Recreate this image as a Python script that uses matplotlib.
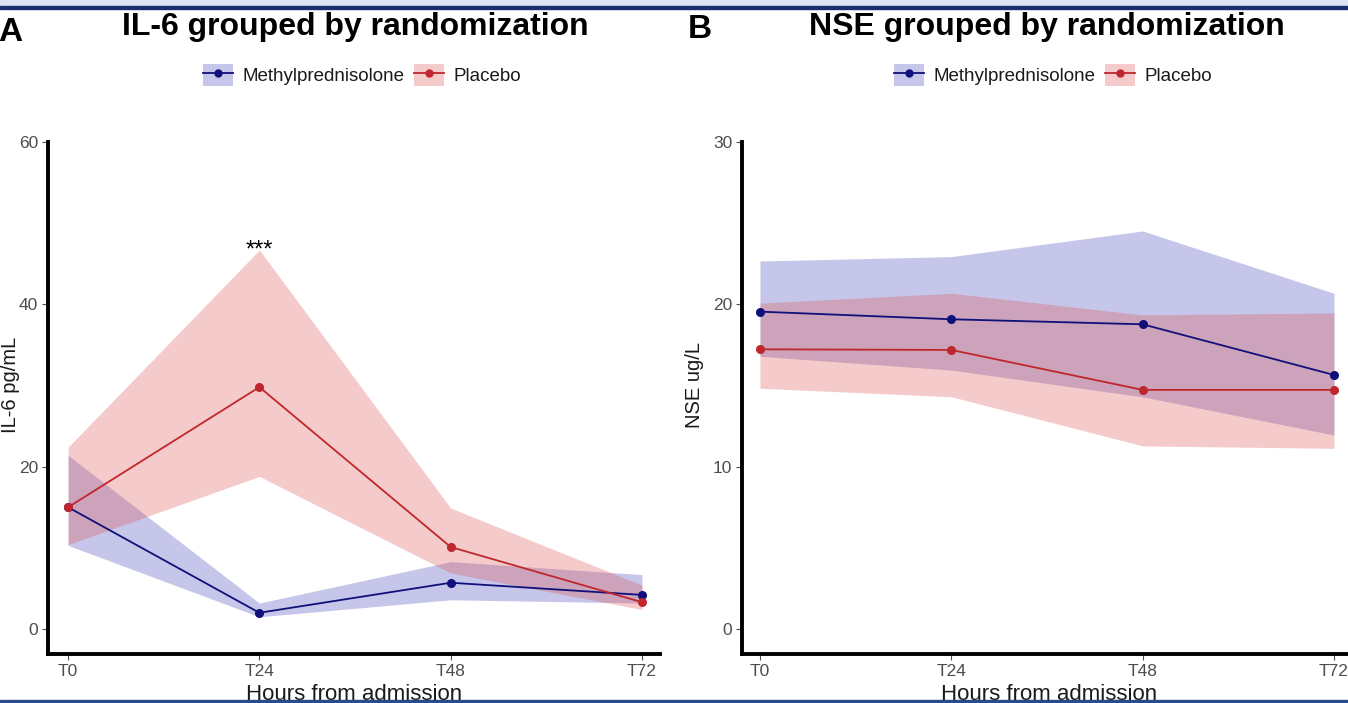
import matplotlib.pyplot as plt
import numpy as np
from matplotlib.lines import Line2D
from matplotlib.patches import Patch, Rectangle

plt.rcParams['font.family'] = ['Liberation Sans', 'DejaVu Sans']

timepoints = ["T0", "T24", "T48", "T72"]

# IL-6 (pg/mL)
il6_mp = [15.0, 2.0, 5.7, 4.2]
il6_mp_lo = [10.3, 1.5, 3.6, 3.2]
il6_mp_hi = [21.4, 3.2, 8.3, 6.7]
il6_pl = [15.0, 29.8, 10.1, 3.3]
il6_pl_lo = [10.4, 18.8, 6.9, 2.4]
il6_pl_hi = [22.4, 46.7, 14.9, 5.4]

# NSE (ug/L)
nse_mp = [19.55, 19.08, 18.77, 15.65]
nse_mp_lo = [16.8, 15.95, 14.3, 11.95]
nse_mp_hi = [22.67, 22.94, 24.52, 20.68]
nse_pl = [17.23, 17.19, 14.73, 14.73]
nse_pl_lo = [14.83, 14.31, 11.28, 11.13]
nse_pl_hi = [20.07, 20.68, 19.35, 19.47]

mp_line = '#10107a'
mp_fill = '#4444bb'
pl_line = '#c0272d'
pl_fill = '#e05050'
tick_grey = '#4d4d4d'

W, H = 1348, 703
fig = plt.figure(figsize=(W / 100, H / 100), dpi=100)

# frame band at top / line at bottom
fig.patches.append(Rectangle((0, 1 - 6 / H), 1, 6 / H, transform=fig.transFigure,
                             color='#dce3f3', zorder=0))
fig.patches.append(Rectangle((0, 1 - 9 / H), 1, 3 / H, transform=fig.transFigure,
                             color='#1b2f6e', zorder=0))
fig.patches.append(Rectangle((0, 0), 1, 3 / H, transform=fig.transFigure,
                             color='#2a4a8c', zorder=0))


def px_axes(x0, x1, y0, y1):
    return fig.add_axes([x0 / W, 1 - y1 / H, (x1 - x0) / W, (y1 - y0) / H])


def draw_panel(ax, mp, mp_lo, mp_hi, pl, pl_lo, pl_hi, ylim, yticks, ylabel):
    x = np.arange(len(timepoints))
    ax.fill_between(x, mp_lo, mp_hi, color=mp_fill, alpha=0.3, lw=0)
    ax.fill_between(x, pl_lo, pl_hi, color=pl_fill, alpha=0.3, lw=0)
    ax.plot(x, mp, color=mp_line, lw=1.3, marker='o', ms=5.5)
    ax.plot(x, pl, color=pl_line, lw=1.3, marker='o', ms=5.5)
    ax.set_ylim(*ylim)
    ax.set_yticks(yticks)
    ax.set_xticks(x, timepoints)
    for s in ['top', 'right']:
        ax.spines[s].set_visible(False)
    for s in ['left', 'bottom']:
        ax.spines[s].set_linewidth(2.8)
    ax.tick_params(colors=tick_grey, labelsize=12.5, length=4, width=0.8, pad=3)
    ax.set_xlabel("Hours from admission", fontsize=16, color='#1a1a1a', labelpad=4)
    ax.set_ylabel(ylabel, fontsize=14.5, color='#1a1a1a')


axA = px_axes(48, 660, 142, 654)
draw_panel(axA, il6_mp, il6_mp_lo, il6_mp_hi, il6_pl, il6_pl_lo, il6_pl_hi,
           (-3.08, 60), [0, 20, 40, 60], "IL-6 pg/mL")
axA.set_xlim(-0.105, 3.094)
axA.yaxis.set_label_coords(-0.046, 0.525)
axA.text(1, 45.9, "***", ha='center', va='baseline', fontsize=17)

axB = px_axes(742, 1356, 142, 654)
draw_panel(axB, nse_mp, nse_mp_lo, nse_mp_hi, nse_pl, nse_pl_lo, nse_pl_hi,
           (-1.54, 30), [0, 10, 20, 30], "NSE ug/L")
axB.set_xlim(-0.094, 3.115)
axB.yaxis.set_label_coords(-0.062, 0.525)

# titles and panel letters
fig.text(355 / W, 1 - 35 / H, "IL-6 grouped by randomization", ha='center', va='baseline',
         fontsize=23, fontweight='bold')
fig.text(1047 / W, 1 - 35 / H, "NSE grouped by randomization", ha='center', va='baseline',
         fontsize=23, fontweight='bold')
fig.text(-2 / W, 1 - 41 / H, "A", ha='left', va='baseline', fontsize=24, fontweight='bold')
fig.text(688 / W, 1 - 38 / H, "B", ha='left', va='baseline', fontsize=24, fontweight='bold')

handles = [
    (Patch(facecolor=mp_fill, alpha=0.3, lw=0),
     Line2D([], [], color=mp_line, lw=1.3, marker='o', ms=5)),
    (Patch(facecolor=pl_fill, alpha=0.3, lw=0),
     Line2D([], [], color=pl_line, lw=1.3, marker='o', ms=5)),
]
labels = ["Methylprednisolone", "Placebo"]
for cx in [362, 1053]:
    fig.legend(handles, labels, loc='center', bbox_to_anchor=(cx / W, 1 - 75 / H),
               ncol=2, frameon=False, fontsize=13.5, handlelength=1.6, handleheight=1.35,
               handletextpad=0.5, columnspacing=0.5, labelcolor='#1a1a1a')

fig.savefig("out.png", dpi=100)
